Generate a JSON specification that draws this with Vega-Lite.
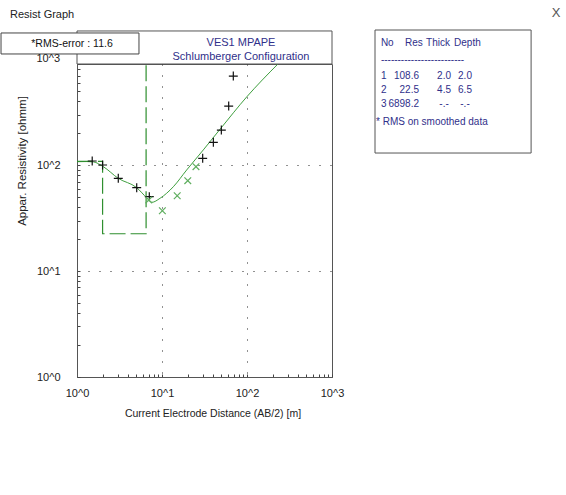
{
  "$schema": "https://vega.github.io/schema/vega-lite/v6.json",
  "width": 255,
  "height": 313,
  "autosize": {"type": "none"},
  "padding": {"left": 77, "top": 64, "right": 234, "bottom": 118},
  "background": "white",
  "config": {
    "view": {"stroke": "#555555", "strokeWidth": 1},
    "text": {"font": "Liberation Sans", "fontSize": 10}
  },
  "datasets": {
    "one": [{}],
    "curve": [
      {"ab2": 1.0, "rho": 107.7}, {"ab2": 1.3, "rho": 108.0}, {"ab2": 1.56, "rho": 107.2},
      {"ab2": 2.04, "rho": 96.6}, {"ab2": 3.06, "rho": 75.0}, {"ab2": 5.04, "rho": 61.2},
      {"ab2": 6.7, "rho": 48.6}, {"ab2": 7.57, "rho": 44.5}, {"ab2": 9.48, "rho": 48.6},
      {"ab2": 13.6, "rho": 62.5}, {"ab2": 19.5, "rho": 89.9}, {"ab2": 30.6, "rho": 139},
      {"ab2": 48.2, "rho": 218}, {"ab2": 99.2, "rho": 440}, {"ab2": 231, "rho": 900}
    ],
    "steps": [
      {"i": 0, "ab2": 1.0, "rho": 108.6}, {"i": 1, "ab2": 2.0, "rho": 108.6},
      {"i": 2, "ab2": 2.0, "rho": 22.5}, {"i": 3, "ab2": 6.5, "rho": 22.5},
      {"i": 4, "ab2": 6.5, "rho": 6898.2}
    ],
    "points": [
      {"kind": "observed", "ab2": 1.51, "rho": 109.3}, {"kind": "observed", "ab2": 2.0, "rho": 100.2},
      {"kind": "observed", "ab2": 3.06, "rho": 75.0}, {"kind": "observed", "ab2": 5.04, "rho": 61.2},
      {"kind": "observed", "ab2": 7.09, "rho": 50.3}, {"kind": "observed", "ab2": 30.1, "rho": 115.9},
      {"kind": "observed", "ab2": 40.2, "rho": 164}, {"kind": "observed", "ab2": 49.9, "rho": 214},
      {"kind": "observed", "ab2": 60.9, "rho": 361}, {"kind": "observed", "ab2": 69.0, "rho": 693},
      {"kind": "smoothed", "ab2": 7.0, "rho": 46.9}, {"kind": "smoothed", "ab2": 10.1, "rho": 37.1},
      {"kind": "smoothed", "ab2": 15.1, "rho": 51.4}, {"kind": "smoothed", "ab2": 20.1, "rho": 71.3},
      {"kind": "smoothed", "ab2": 25.1, "rho": 96.6}
    ],
    "model": [
      {"No": 1, "Res": 108.6, "Thick": 2.0, "Depth": 2.0},
      {"No": 2, "Res": 22.5, "Thick": 4.5, "Depth": 6.5},
      {"No": 3, "Res": 6898.2, "Thick": null, "Depth": null}
    ]
  },
  "layer": [
    {
      "data": {"name": "curve"},
      "mark": {"type": "line", "color": "#3f9f3f", "strokeWidth": 1, "interpolate": "monotone", "clip": true},
      "encoding": {
        "x": {"field": "ab2", "type": "quantitative",
          "scale": {"type": "log", "domain": [1, 1000], "nice": false},
          "axis": {
            "values": [1,2,3,4,5,6,7,8,9,10,20,30,40,50,60,70,80,90,100,200,300,400,500,600,700,800,900,1000],
            "labelExpr": "indexof([1,10,100,1000], datum.value) >= 0 ? '10^' + round(log(datum.value)/LN10) : ''",
            "labelFlush": false, "labelOverlap": false, "labelPadding": 13,
            "labelFont": "Liberation Sans", "labelFontSize": 11, "labelColor": "#222222",
            "grid": true, "gridDash": [1, 10], "gridColor": "#222222", "gridWidth": 1,
            "gridOpacity": {"condition": {"test": "indexof([10,100], datum.value) >= 0", "value": 1}, "value": 0},
            "ticks": true, "tickSize": -3, "tickColor": "#444444",
            "domainColor": "#555555",
            "title": "Current Electrode Distance (AB/2) [m]",
            "titleFont": "Liberation Sans", "titleFontSize": 10.5, "titleFontWeight": "normal", "titleColor": "#222222",
            "titleX": 135.5, "titleY": 36, "titleBaseline": "middle", "titleAlign": "center"
          }
        },
        "y": {"field": "rho", "type": "quantitative",
          "scale": {"type": "log", "domain": [1, 900], "nice": false},
          "axis": {
            "values": [1,2,3,4,5,6,7,8,9,10,20,30,40,50,60,70,80,90,100,200,300,400,500,600,700,800,900],
            "labelExpr": "indexof([1,10,100,1000], datum.value) >= 0 ? '10^' + round(log(datum.value)/LN10) : ''",
            "labelFlush": false, "labelOverlap": false, "labelPadding": 20,
            "labelFont": "Liberation Sans", "labelFontSize": 11, "labelColor": "#222222",
            "grid": true, "gridDash": [1, 10], "gridColor": "#222222", "gridWidth": 1,
            "gridOpacity": {"condition": {"test": "indexof([10,100], datum.value) >= 0", "value": 1}, "value": 0},
            "ticks": true, "tickSize": -3, "tickColor": "#444444",
            "domainColor": "#555555",
            "title": "Appar. Resistivity [ohmm]",
            "titleFont": "Liberation Sans", "titleFontSize": 11.5, "titleFontWeight": "normal", "titleColor": "#222222",
            "titleX": -54.5, "titleY": 96.5, "titleAngle": -90, "titleBaseline": "middle", "titleAlign": "center"
          }
        }
      }
    },
    {
      "data": {"name": "steps"},
      "mark": {"type": "line", "color": "#2f8f2f", "strokeWidth": 1.2, "strokeDash": [16, 5], "clip": true},
      "encoding": {
        "x": {"field": "ab2", "type": "quantitative"},
        "y": {"field": "rho", "type": "quantitative"},
        "order": {"field": "i", "type": "quantitative"}
      }
    },
    {
      "data": {"name": "points"},
      "mark": {"type": "point", "filled": false, "strokeWidth": 1.2, "opacity": 1, "clip": true},
      "encoding": {
        "x": {"field": "ab2", "type": "quantitative"},
        "y": {"field": "rho", "type": "quantitative"},
        "shape": {"field": "kind", "type": "nominal", "scale": {"domain": ["observed", "smoothed"], "range": ["M-1,0L1,0M0,-1L0,1", "M-1,-1L1,1M1,-1L-1,1"]}, "legend": null},
        "color": {"field": "kind", "type": "nominal", "scale": {"domain": ["observed", "smoothed"], "range": ["#111111", "#5fae5f"]}, "legend": null},
        "size": {"field": "kind", "type": "ordinal", "scale": {"domain": ["observed", "smoothed"], "range": [80, 45]}, "legend": null}
      }
    },
    {
      "data": {"name": "one"},
      "mark": {"type": "text", "align": "left", "baseline": "middle", "color": "#222222", "fontSize": 11},
      "encoding": {"x": {"datum": 0.163, "type": "quantitative"}, "y": {"datum": 2612, "type": "quantitative"}, "text": {"value": "Resist Graph"}}
    },
    {
      "data": {"name": "one"},
      "mark": {"type": "rect", "fill": "white", "stroke": "#555555", "strokeWidth": 1},
      "encoding": {
        "x": {"datum": 1, "type": "quantitative"}, "x2": {"datum": 1000},
        "y": {"datum": 900, "type": "quantitative"}, "y2": {"datum": 1845}
      }
    },
    {
      "data": {"name": "one"},
      "mark": {"type": "text", "align": "center", "baseline": "middle", "color": "#30308a", "fontSize": 11},
      "encoding": {"x": {"datum": 85, "type": "quantitative"}, "y": {"datum": 1430, "type": "quantitative"}, "text": {"value": "VES1 MPAPE"}}
    },
    {
      "data": {"name": "one"},
      "mark": {"type": "text", "align": "center", "baseline": "middle", "color": "#30308a", "fontSize": 11},
      "encoding": {"x": {"datum": 85, "type": "quantitative"}, "y": {"datum": 1055, "type": "quantitative"}, "text": {"value": "Schlumberger Configuration"}}
    },
    {
      "data": {"name": "one"},
      "mark": {"type": "rect", "fill": "white", "stroke": "#444444", "strokeWidth": 1},
      "encoding": {
        "x": {"datum": 0.1277, "type": "quantitative"}, "x2": {"datum": 5.36},
        "y": {"datum": 1766, "type": "quantitative"}, "y2": {"datum": 1119}
      }
    },
    {
      "data": {"name": "one"},
      "mark": {"type": "text", "align": "center", "baseline": "middle", "color": "#111111", "fontSize": 10.5},
      "encoding": {"x": {"datum": 0.873, "type": "quantitative"}, "y": {"datum": 1390, "type": "quantitative"}, "text": {"value": "*RMS-error : 11.6"}}
    },
    {
      "data": {"name": "one"},
      "mark": {"type": "text", "align": "right", "baseline": "middle", "color": "#222222", "fontSize": 11, "dx": -17},
      "encoding": {"x": {"datum": 1, "type": "quantitative"}, "y": {"datum": 1000, "type": "quantitative"}, "text": {"value": "10^3"}}
    },
    {
      "data": {"name": "one"},
      "mark": {"type": "rect", "fill": "white", "stroke": "#555555", "strokeWidth": 1},
      "encoding": {
        "x": {"datum": 3206, "type": "quantitative"}, "x2": {"datum": 220000},
        "y": {"datum": 1884, "type": "quantitative"}, "y2": {"datum": 130}
      }
    },
    {
      "data": {"name": "one"},
      "mark": {"type": "text", "align": "left", "baseline": "middle", "color": "#30308a"},
      "encoding": {"x": {"datum": 3760, "type": "quantitative"}, "y": {"datum": 1412, "type": "quantitative"}, "text": {"value": "No"}}
    },
    {
      "data": {"name": "one"},
      "mark": {"type": "text", "align": "center", "baseline": "middle", "color": "#30308a"},
      "encoding": {"x": {"datum": 9180, "type": "quantitative"}, "y": {"datum": 1412, "type": "quantitative"}, "text": {"value": "Res"}}
    },
    {
      "data": {"name": "one"},
      "mark": {"type": "text", "align": "center", "baseline": "middle", "color": "#30308a"},
      "encoding": {"x": {"datum": 17650, "type": "quantitative"}, "y": {"datum": 1412, "type": "quantitative"}, "text": {"value": "Thick"}}
    },
    {
      "data": {"name": "one"},
      "mark": {"type": "text", "align": "center", "baseline": "middle", "color": "#30308a"},
      "encoding": {"x": {"datum": 39200, "type": "quantitative"}, "y": {"datum": 1412, "type": "quantitative"}, "text": {"value": "Depth"}}
    },
    {
      "data": {"name": "one"},
      "mark": {"type": "text", "align": "left", "baseline": "middle", "color": "#30308a"},
      "encoding": {"x": {"datum": 3760, "type": "quantitative"}, "y": {"datum": 982, "type": "quantitative"}, "text": {"value": "-------------------------"}}
    },
    {
      "data": {"name": "model"}, "transform": [{"filter": "datum.No == 1"}],
      "mark": {"type": "text", "align": "left", "baseline": "middle", "color": "#30308a"},
      "encoding": {"x": {"datum": 3760, "type": "quantitative"}, "y": {"datum": 689, "type": "quantitative"}, "text": {"field": "No", "type": "quantitative"}}
    },
    {
      "data": {"name": "model"}, "transform": [{"filter": "datum.No == 2"}],
      "mark": {"type": "text", "align": "left", "baseline": "middle", "color": "#30308a"},
      "encoding": {"x": {"datum": 3760, "type": "quantitative"}, "y": {"datum": 508, "type": "quantitative"}, "text": {"field": "No", "type": "quantitative"}}
    },
    {
      "data": {"name": "model"}, "transform": [{"filter": "datum.No == 3"}],
      "mark": {"type": "text", "align": "left", "baseline": "middle", "color": "#30308a"},
      "encoding": {"x": {"datum": 3760, "type": "quantitative"}, "y": {"datum": 375, "type": "quantitative"}, "text": {"field": "No", "type": "quantitative"}}
    },
    {
      "data": {"name": "model"}, "transform": [{"filter": "datum.No == 1"}],
      "mark": {"type": "text", "align": "right", "baseline": "middle", "color": "#30308a"},
      "encoding": {"x": {"datum": 10560, "type": "quantitative"}, "y": {"datum": 689, "type": "quantitative"}, "text": {"field": "Res", "type": "quantitative", "format": ".1f"}}
    },
    {
      "data": {"name": "model"}, "transform": [{"filter": "datum.No == 2"}],
      "mark": {"type": "text", "align": "right", "baseline": "middle", "color": "#30308a"},
      "encoding": {"x": {"datum": 10560, "type": "quantitative"}, "y": {"datum": 508, "type": "quantitative"}, "text": {"field": "Res", "type": "quantitative", "format": ".1f"}}
    },
    {
      "data": {"name": "model"}, "transform": [{"filter": "datum.No == 3"}],
      "mark": {"type": "text", "align": "right", "baseline": "middle", "color": "#30308a"},
      "encoding": {"x": {"datum": 10560, "type": "quantitative"}, "y": {"datum": 375, "type": "quantitative"}, "text": {"field": "Res", "type": "quantitative", "format": ".1f"}}
    },
    {
      "data": {"name": "model"}, "transform": [{"filter": "datum.No == 1"}],
      "mark": {"type": "text", "align": "center", "baseline": "middle", "color": "#30308a"},
      "encoding": {"x": {"datum": 20790, "type": "quantitative"}, "y": {"datum": 689, "type": "quantitative"}, "text": {"condition": {"test": "datum.Thick == null", "value": "-.-"}, "field": "Thick", "type": "quantitative", "format": ".1f"}}
    },
    {
      "data": {"name": "model"}, "transform": [{"filter": "datum.No == 2"}],
      "mark": {"type": "text", "align": "center", "baseline": "middle", "color": "#30308a"},
      "encoding": {"x": {"datum": 20790, "type": "quantitative"}, "y": {"datum": 508, "type": "quantitative"}, "text": {"condition": {"test": "datum.Thick == null", "value": "-.-"}, "field": "Thick", "type": "quantitative", "format": ".1f"}}
    },
    {
      "data": {"name": "model"}, "transform": [{"filter": "datum.No == 3"}],
      "mark": {"type": "text", "align": "center", "baseline": "middle", "color": "#30308a"},
      "encoding": {"x": {"datum": 20790, "type": "quantitative"}, "y": {"datum": 375, "type": "quantitative"}, "text": {"condition": {"test": "datum.Thick == null", "value": "-.-"}, "field": "Thick", "type": "quantitative", "format": ".1f"}}
    },
    {
      "data": {"name": "model"}, "transform": [{"filter": "datum.No == 1"}],
      "mark": {"type": "text", "align": "center", "baseline": "middle", "color": "#30308a"},
      "encoding": {"x": {"datum": 36700, "type": "quantitative"}, "y": {"datum": 689, "type": "quantitative"}, "text": {"condition": {"test": "datum.Depth == null", "value": "-.-"}, "field": "Depth", "type": "quantitative", "format": ".1f"}}
    },
    {
      "data": {"name": "model"}, "transform": [{"filter": "datum.No == 2"}],
      "mark": {"type": "text", "align": "center", "baseline": "middle", "color": "#30308a"},
      "encoding": {"x": {"datum": 36700, "type": "quantitative"}, "y": {"datum": 508, "type": "quantitative"}, "text": {"condition": {"test": "datum.Depth == null", "value": "-.-"}, "field": "Depth", "type": "quantitative", "format": ".1f"}}
    },
    {
      "data": {"name": "model"}, "transform": [{"filter": "datum.No == 3"}],
      "mark": {"type": "text", "align": "center", "baseline": "middle", "color": "#30308a"},
      "encoding": {"x": {"datum": 36700, "type": "quantitative"}, "y": {"datum": 375, "type": "quantitative"}, "text": {"condition": {"test": "datum.Depth == null", "value": "-.-"}, "field": "Depth", "type": "quantitative", "format": ".1f"}}
    },
    {
      "data": {"name": "one"},
      "mark": {"type": "text", "align": "left", "baseline": "middle", "color": "#30308a"},
      "encoding": {"x": {"datum": 3293, "type": "quantitative"}, "y": {"datum": 257, "type": "quantitative"}, "text": {"value": "* RMS on smoothed data"}}
    },
    {
      "data": {"name": "one"},
      "mark": {"type": "text", "align": "center", "baseline": "middle", "color": "#555555", "fontSize": 13},
      "encoding": {"x": {"datum": 431500, "type": "quantitative"}, "y": {"datum": 2698, "type": "quantitative"}, "text": {"value": "X"}}
    }
  ]
}
